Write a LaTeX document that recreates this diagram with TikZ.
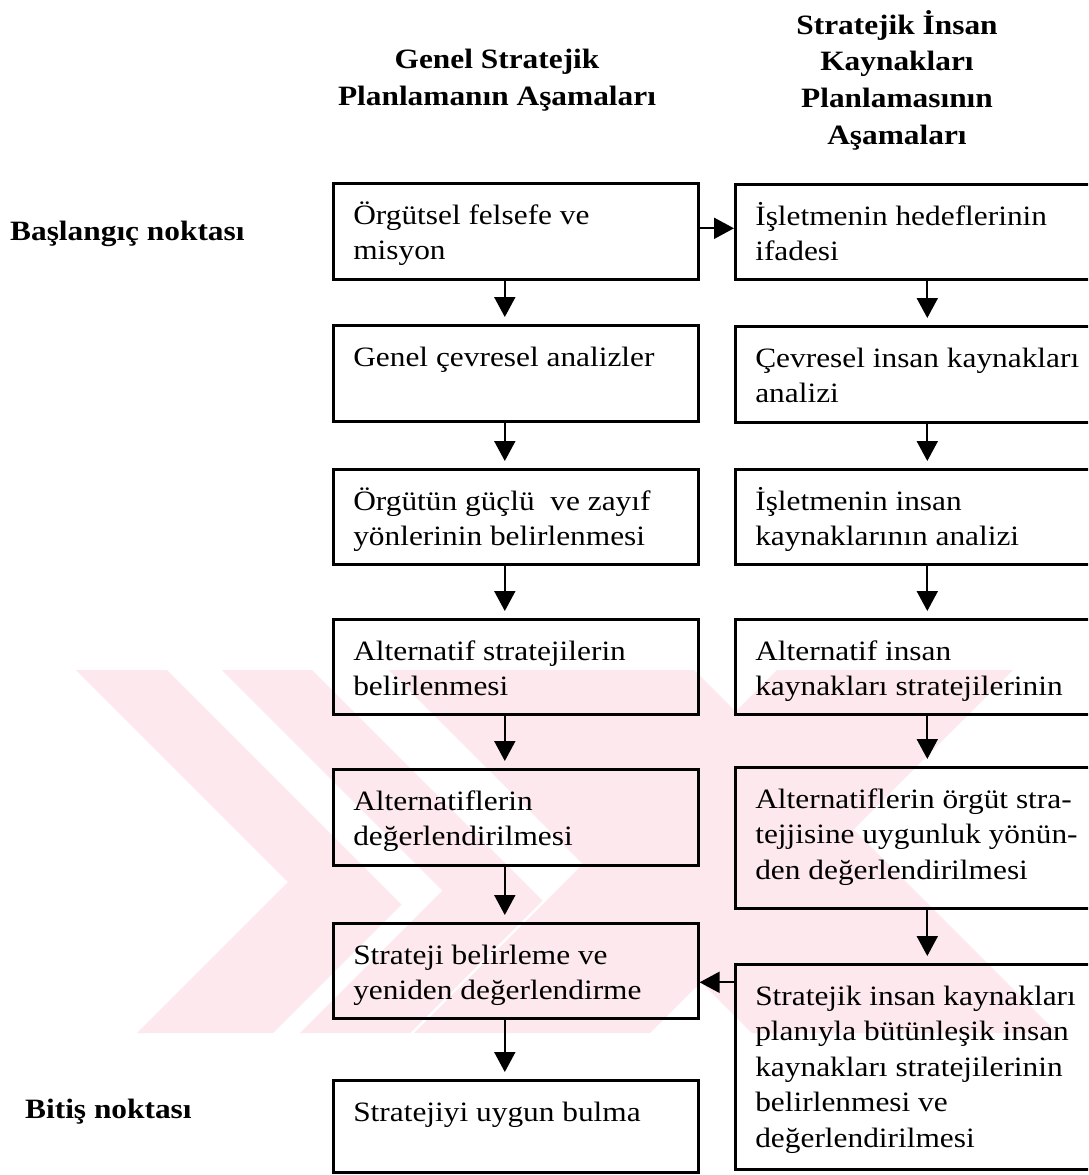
\documentclass[tikz,border=0pt]{standalone}
\usepackage{fontspec}
\setmainfont{Liberation Serif}[FakeStretch=1.12]
\usetikzlibrary{arrows.meta}

\definecolor{markpink}{RGB}{252,232,237}

% first line sits 41pt below the top of its frame
\newcommand\framed[3]{\parbox[c][#1pt][t]{#2pt}{\raggedright\rule{0pt}{41pt}#3}}

\begin{document}
\begin{tikzpicture}[x=1pt,y=-1pt,
  stage/.style={draw, line width=2.6pt, anchor=north west, inner xsep=20pt, inner ysep=0pt,
    font=\fontsize{28}{35.5}\selectfont},
  head/.style={align=center, inner sep=0pt, font=\fontsize{28}{36.7}\selectfont\bfseries},
  side/.style={anchor=base west, inner sep=0pt, font=\fontsize{28}{34}\selectfont\bfseries},
  flow/.style={line width=2pt, -{Triangle[length=20pt,width=21pt]}}
]
\clip (0,0) rectangle (1088,1175);
\fill[white] (0,0) rectangle (1088,1175);

% faint striped emblem behind the lower half
\begin{scope}
  \clip (0,670) rectangle (1088,1033);
  % outer chevron band
  \fill[markpink] (76,670) -- (288,882) -- (137,1033) -- (273,1033) -- (401.5,904.5) -- (167,670) -- cycle;
  % inner chevron band
  \fill[markpink] (222,670) -- (442.5,890.5) -- (300,1033) -- (410,1033) -- (542.5,900.5) -- (312,670) -- cycle;
  % crossing bands
  \fill[markpink] (389,670) -- (694,670) -- (1057,1033) -- (752,1033) -- cycle;
  \fill[markpink] (414,1033) -- (650,1033) -- (1013,670) -- (777,670) -- cycle;
\end{scope}

% column headings
\node[head] (hl) at (497,80) {Genel Stratejik\\Planlamanın Aşamaları};
\node[head] (hr) at (897,80) {Stratejik İnsan\\Kaynakları\\Planlamasının\\Aşamaları};

% row labels
\node[side] (start) at (10,240) {Başlangıç noktası};
\node[side] (end) at (25,1118) {Bitiş noktası};

% general strategic planning
\node[stage] (l1) at (332,182)  {\framed{96}{325}{Örgütsel felsefe ve\\misyon}};
\node[stage] (l2) at (332,324)  {\framed{96}{325}{Genel çevresel analizler}};
\node[stage] (l3) at (332,468)  {\framed{95}{325}{Örgütün güçlü\ \ ve zayıf\\yönlerinin belirlenmesi}};
\node[stage] (l4) at (332,618)  {\framed{95}{325}{Alternatif stratejilerin\\belirlenmesi}};
\node[stage] (l5) at (332,768)  {\framed{96}{325}{Alternatiflerin\\değerlendirilmesi}};
\node[stage] (l6) at (332,922)  {\framed{95}{325}{Strateji belirleme ve\\yeniden değerlendirme}};
\node[stage] (l7) at (332,1079) {\framed{92}{325}{Stratejiyi uygun bulma}};

% strategic human resource planning
\node[stage] (r1) at (734,183) {\framed{95}{340}{İşletmenin hedeflerinin\\ifadesi}};
\node[stage] (r2) at (734,325) {\framed{96}{340}{Çevresel insan kaynakları\\analizi}};
\node[stage] (r3) at (734,468) {\framed{95}{340}{İşletmenin insan\\kaynaklarının analizi}};
\node[stage] (r4) at (734,618) {\framed{95}{340}{Alternatif insan\\kaynakları stratejilerinin}};
\node[stage] (r5) at (734,766) {\framed{141}{340}{Alternatiflerin örgüt stra-\\tejjisine uygunluk yönün-\\den değerlendirilmesi}};
\node[stage] (r6) at (734,963) {\framed{205}{340}{Stratejik insan kaynakları\\planıyla bütünleşik insan\\kaynakları stratejilerinin\\belirlenmesi ve\\değerlendirilmesi}};

% vertical flow, left column
\foreach \a/\b in {l1/l2,l2/l3,l3/l4,l4/l5,l5/l6,l6/l7}
  \draw[flow, shorten >=7pt] ([xshift=-11pt]\a.south) -- ([xshift=-11pt]\b.north);
% vertical flow, right column
\foreach \a/\b in {r1/r2,r2/r3,r3/r4,r4/r5,r5/r6}
  \draw[flow, shorten >=7pt] ([xshift=2pt]\a.south) -- ([xshift=2pt]\b.north);

% links between the columns
\coordinate (out) at ([yshift=3pt]l1.east);
\draw[flow] (out) -- (r1.west |- out);
\coordinate (back) at ([yshift=-11.5pt]l6.east);
\draw[flow] (r6.west |- back) -- (back);
\end{tikzpicture}
\end{document}
